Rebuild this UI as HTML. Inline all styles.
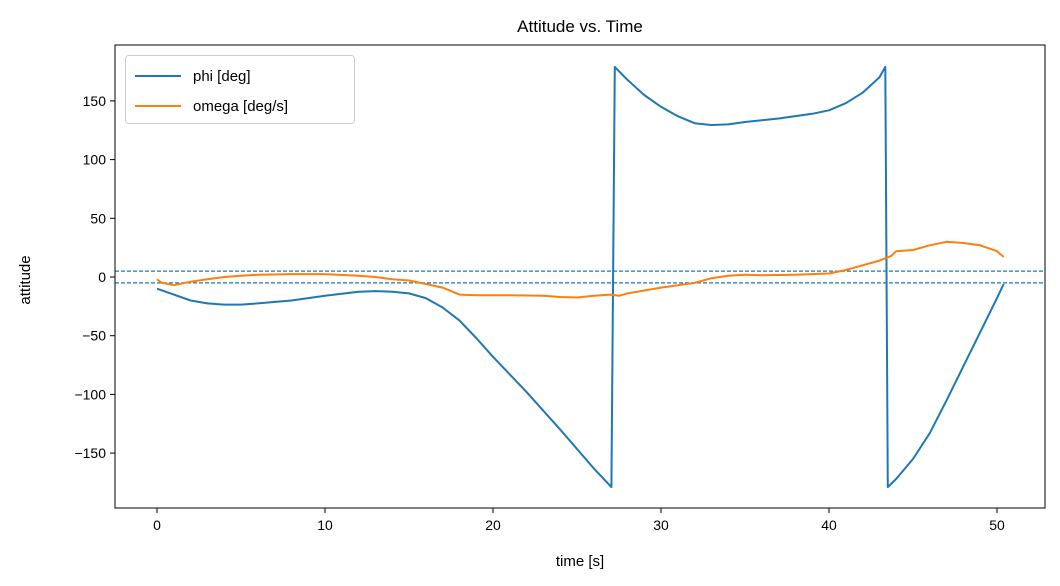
<!DOCTYPE html>
<html><head><meta charset="utf-8"><style>
body{margin:0;background:#fff;}
svg{display:block;font-family:"Liberation Sans","DejaVu Sans",sans-serif;}
</style></head><body>
<svg id="chart" width="1060" height="586"></svg>
<script>
const phiT=[0,1,2,3,4,5,6,8,10,12,13,14,15,16,17,18,19,20,22,24,26,27.05,27.25,28,29,30,31,32,33,34,35,37,39,40,41,42,43,43.35,43.5,44,45,46,47,48,49,50,50.4];
const phiV=[-10,-15,-20,-22.5,-23.5,-23.5,-22.5,-20,-16,-12.5,-12,-12.5,-14,-18,-26,-37,-52,-68,-98,-130,-163,-179,179,168,155,145,137,131,129.5,130,132,135,139,142,148,157,170,179,-179,-172,-155,-133,-105,-76,-47,-18,-6];
const omT=[0,0.3,1,2,3,4,5,6,8,10,12,13,14,15,16,17,18,19,21,23,24,25,26,27,27.5,28,30,32,33,34,35,36,38,40,41,42,43,43.7,44,45,46,47,48,49,50,50.4];
const omV=[-2,-5,-7,-4,-2,0,1,2,2.5,2.5,1,0,-2,-3,-6,-9,-15,-15.5,-15.5,-16,-17,-17.5,-16,-15,-16,-14,-9,-5,-1,1,2,1.5,2,3,6,10,14,18,22,23,27,30,29,27,22,17];
const xTicks=[0,10,20,30,40,50];
const yTicks=[-150,-100,-50,0,50,100,150];
const thresholds=[5,-5];

const L=115,R=1045,T=45,B=508;
const xs=t=>157+t*16.8;
const ys=v=>277-v*1.174;
const svg=document.getElementById('chart');
const NS='http://www.w3.org/2000/svg';
function mk(tag,attrs,txt){const e=document.createElementNS(NS,tag);for(const k in attrs)e.setAttribute(k,attrs[k]);if(txt!==undefined)e.textContent=txt;svg.appendChild(e);return e;}

let t=mk('text',{x:580,y:32,'text-anchor':'middle','font-size':'17'},'Attitude vs. Time');



xTicks.forEach(v=>{
  const x=xs(v);
  let l=mk('line',{x1:x,x2:x,y1:B,y2:B+5,stroke:'#000','stroke-width':1});
  
  
  let tx=mk('text',{x:x,y:B+22,'text-anchor':'middle','font-size':'14'},String(v));
  
  
});
yTicks.forEach(v=>{
  const y=ys(v);
  let l=mk('line',{x1:L-5,x2:L,y1:y,y2:y,stroke:'#000','stroke-width':1});
  
  
  let tx=mk('text',{x:L-9,y:y+5,'text-anchor':'end','font-size':'14'},v<0?'\u2212'+(-v):String(v));
  
  
});
let xl=mk('text',{x:580,y:566,'text-anchor':'middle','font-size':'15'},'time [s]');


let yl=mk('text',{x:30,y:280,'text-anchor':'middle','font-size':'15',transform:'rotate(-90 30 280)'},'attitude');



thresholds.forEach(v=>{
  let l=mk('line',{x1:L,x2:R,y1:ys(v),y2:ys(v),stroke:'#1f77b4','stroke-width':1.2,'stroke-dasharray':'4,2'});
  
  
});

function path(T_,V,color,name){
  const d=T_.map((tt,i)=>(i?'L':'M')+xs(tt).toFixed(1)+','+ys(V[i]).toFixed(1)).join(' ');
  let p=mk('path',{d:d,fill:'none',stroke:color,'stroke-width':2,'stroke-linejoin':'round'});
  
  
}
path(phiT,phiV,'#1f77b4','phi-line');
path(omT,omV,'#ff7f0e','omega-line');

let fr=mk('rect',{x:L,y:T,width:R-L,height:B-T,fill:'none',stroke:'#000','stroke-width':1});



let lg=mk('rect',{x:125.5,y:55.5,width:229,height:68,rx:3,fill:'#fff','fill-opacity':0.8,stroke:'#ccc'});


[['phi [deg]','#1f77b4',76],['omega [deg/s]','#ff7f0e',106]].forEach(([lab,c,y])=>{
  let l=mk('line',{x1:135,x2:181,y1:y,y2:y,stroke:c,'stroke-width':2});
  
  
  let tx=mk('text',{x:193,y:y+5,'font-size':'15'},lab);
  
  
});
</script>
</body></html>
